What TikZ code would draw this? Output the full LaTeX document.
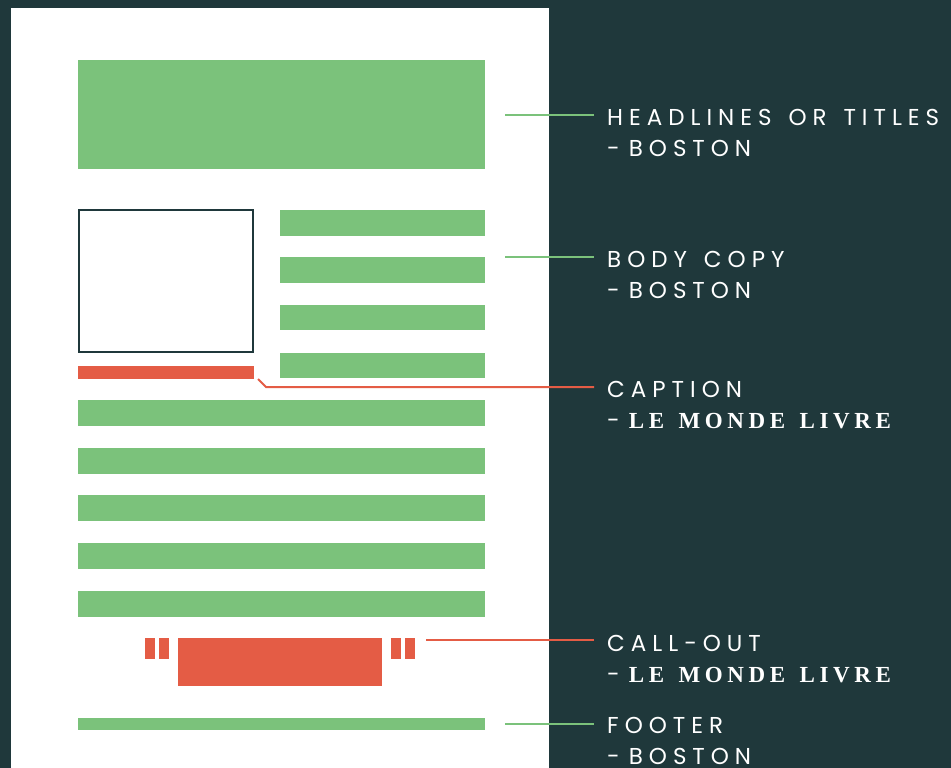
\documentclass[tikz,border=0pt]{standalone}
\usepackage{fontspec}
\setmainfont{Poppins}
\newfontfamily\labelfont[LetterSpace=26,WordSpace=1.4]{Poppins}
\newfontfamily\serifbold[LetterSpace=20,WordSpace=1.4]{Liberation Serif}
\newcommand{\dashlead}{-\hspace{9pt}}
\definecolor{bgdark}{HTML}{1F383B}
\definecolor{leafgreen}{HTML}{7BC27B}
\definecolor{tomato}{HTML}{E45C45}
\tikzset{
  greenbar/.style={fill=leafgreen, draw=none},
  redbar/.style={fill=tomato, draw=none},
  gline/.style={draw=leafgreen, line width=2pt},
  rline/.style={draw=tomato, line width=2pt},
  lbl/.style={anchor=base west, inner sep=0pt, text=white, font=\labelfont\fontsize{23}{28}\selectfont},
}
\begin{document}
\begin{tikzpicture}[x=1pt,y=-1pt]
\useasboundingbox (0,0) rectangle (951,768);
\fill[bgdark] (0,0) rectangle (951,768);
\fill[white] (11,8) rectangle (549,768);
% headline
\path[greenbar] (78,60) rectangle (485,169);
% image box
\draw[bgdark, line width=2pt] (79,210) rectangle (253,352);
% body lines right
\path[greenbar] (280,210) rectangle (485,236);
\path[greenbar] (280,257) rectangle (485,283);
\path[greenbar] (280,305) rectangle (485,330);
\path[greenbar] (280,353) rectangle (485,378);
% caption
\path[redbar] (78,366) rectangle (254,379);
% full lines
\foreach \y in {400,448,495,543,591}{
  \path[greenbar] (78,\y) rectangle (485,\y+26);
}
% callout
\path[redbar] (145,638) rectangle (155,659);
\path[redbar] (159,638) rectangle (169,659);
\path[redbar] (178,638) rectangle (382,686);
\path[redbar] (391,638) rectangle (401,659);
\path[redbar] (405,638) rectangle (415,659);
% footer
\path[greenbar] (78,718) rectangle (485,730);

% connector coordinates
\coordinate (c1a) at (505,115); \coordinate (c1b) at (594,115);
\coordinate (c2a) at (505,257); \coordinate (c2b) at (594,257);
\coordinate (c3a) at (258,379); \coordinate (c3m) at (266,387); \coordinate (c3b) at (594,387);
\coordinate (c4a) at (426,640); \coordinate (c4b) at (594,640);
\coordinate (c5a) at (505,724); \coordinate (c5b) at (594,724);
\draw[gline] (c1a) -- (c1b);
\draw[gline] (c2a) -- (c2b);
\draw[rline] (c3a) -- (c3m) -- (c3b);
\draw[rline] (c4a) -- (c4b);
\draw[gline] (c5a) -- (c5b);

% labels
\node[lbl] (t1) at (607,125) {HEADLINES OR TITLES};
\node[lbl] (t1b) at (607,156) {\dashlead BOSTON};
\node[lbl] (t2) at (607,267) {BODY COPY};
\node[lbl] (t2b) at (607,298) {\dashlead BOSTON};
\node[lbl] (t3) at (607,397) {CAPTION};
\node[lbl] (t3b) at (607,428) {\dashlead{\serifbold\bfseries LE MONDE LIVRE}};
\node[lbl] (t4) at (607,651) {CALL-OUT};
\node[lbl] (t4b) at (607,682) {\dashlead{\serifbold\bfseries LE MONDE LIVRE}};
\node[lbl] (t5) at (607,733) {FOOTER};
\node[lbl] (t5b) at (607,764) {\dashlead BOSTON};
\end{tikzpicture}
\end{document}
